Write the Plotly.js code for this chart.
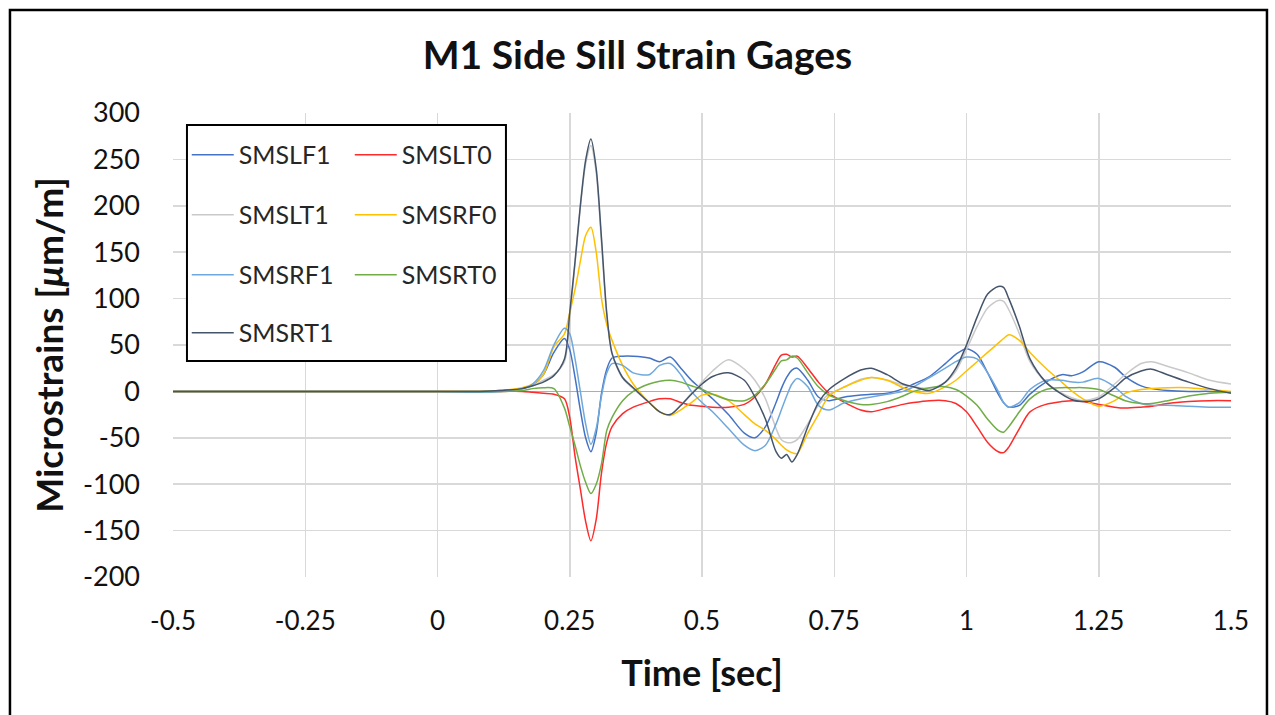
<!DOCTYPE html>
<html>
<head>
<meta charset="utf-8">
<script src="https://cdn.plot.ly/plotly-3.0.1.min.js"></script>
<style>
html,body{margin:0;padding:0;background:#fff;}
#chart{width:1275px;height:715px;}
</style>
</head>
<body>
<div id="chart"></div>
<script>
// Time axis (seconds)
const time = [-0.5, 0, 0.08, 0.12, 0.16, 0.18, 0.2, 0.22, 0.24, 0.25, 0.26, 0.27, 0.28, 0.29, 0.3, 0.31, 0.32, 0.33, 0.35, 0.37, 0.4, 0.42, 0.44, 0.46, 0.48, 0.5, 0.52, 0.55, 0.58, 0.6, 0.62, 0.64, 0.65, 0.66, 0.67, 0.68, 0.7, 0.72, 0.74, 0.77, 0.8, 0.82, 0.85, 0.88, 0.9, 0.93, 0.96, 0.98, 1.0, 1.02, 1.04, 1.06, 1.07, 1.08, 1.1, 1.12, 1.15, 1.18, 1.2, 1.22, 1.25, 1.28, 1.3, 1.33, 1.35, 1.38, 1.42, 1.46, 1.5];

// Series values (microstrains)
const SMSLF1 = [0,0,0,1,3, 7,18,42,57,45, 15,-20,-50,-65,-45, -2,24,36,38,38, 36,32,37,25,12, 2,-8,-25,-45,-50, -38,-12,3,15,23, 25,12,-6,-10,-6, -4,-3,-2,3,8, 16,30,40,46,40, 20,-3,-12,-17,-15, -3,10,18,17,21, 32,26,16,6,3, 1,0,0,-1];
const SMSLT0 = [0,0,0,0,0, -1,-2,-3,-8,-28, -70,-105,-140,-161,-138, -88,-55,-38,-24,-17, -11,-8,-8,-12,-15, -16,-17,-17,-14,-6, 8,30,39,40,37, 38,25,10,-2,-12, -20,-22,-18,-14,-12, -10,-10,-13,-22,-38, -55,-65,-66,-60,-40, -22,-14,-11,-10,-11, -14,-17,-18,-17,-16, -13,-11,-10,-10];
const SMSLT1 = [0,0,0,1,3, 6,12,18,32,80, 138,198,245,265,236, 160,82,40,14,3, -12,-22,-25,-15,-2, 10,22,34,24,12, -8,-40,-52,-55,-55, -52,-35,-15,-3,5, 13,15,12,7,5, 3,10,22,45,70, 90,98,97,88,62, 32,10,-2,-7,-10, -6,8,18,30,32, 27,20,12,8];
const SMSRF0 = [0,0,0,1,4, 8,18,48,62,85, 110,140,168,177,150, 100,72,55,28,8, -12,-22,-26,-20,-12, -4,-3,-10,-25,-35, -42,-52,-58,-63,-66, -67,-45,-25,-5,5, 12,15,12,4,0, -2,5,12,22,32, 42,52,57,61,55, 42,25,10,0,-8, -16,-10,-2,2,3, 4,4,2,0];
const SMSRF1 = [0,0,-1,0,3, 8,22,50,68,62, 35,0,-35,-57,-40, -5,20,30,28,20, 18,28,30,18,0, -12,-22,-40,-58,-64, -58,-35,-20,-5,8, 14,5,-15,-20,-12, -8,-6,-3,0,5, 15,25,32,37,35, 20,0,-12,-17,-12, 2,12,12,10,10, 14,5,-5,-13,-15, -15,-16,-17,-17];
const SMSRT0 = [0,0,0,0,1, 3,4,3,-18,-38, -58,-80,-98,-110,-100, -78,-42,-28,-10,0, 8,11,12,10,6, 2,-3,-9,-10,-4, 8,25,33,34,38, 36,20,5,-4,-10, -14,-14,-11,-5,0, 4,5,2,-5,-15, -30,-42,-44,-38,-22, -8,2,4,4,4, 2,-5,-10,-13,-13, -10,-5,-2,-1];
const SMSRT1 = [0,0,0,1,3, 6,10,17,35,85, 140,200,249,272,240, 165,84,41,15,4, -12,-22,-25,-15,-3, 8,16,20,12,-6, -30,-65,-72,-68,-76, -68,-38,-12,2,14, 23,25,18,8,5, 1,10,25,50,80, 105,113,112,100,70, 35,10,-3,-9,-11, -8,4,14,22,24, 18,10,3,-2];

const seriesNames = ['SMSLF1','SMSLT0','SMSLT1','SMSRF0','SMSRF1','SMSRT0','SMSRT1'];
const seriesValues = [SMSLF1, SMSLT0, SMSLT1, SMSRF0, SMSRF1, SMSRT0, SMSRT1];
const seriesColors = ['#4472C4','#FF2A2A','#C9C9C9','#FFC000','#6FA8DC','#70AD47','#44546A'];
const seriesLegend = ['legend','legend','legend2','legend2','legend3','legend3','legend4'];

const xTickVals = [-0.5, -0.25, 0, 0.25, 0.5, 0.75, 1, 1.25, 1.5];
const xTickText = ['-0.5','-0.25','0','0.25','0.5','0.75','1','1.25','1.5'];
const yTickVals = [-200,-150,-100,-50,0,50,100,150,200,250,300];
const yTickText = ['-200','-150','-100','-50','0','50','100','150','200','250','300'];

const FONT = 'Lato, "Open Sans", sans-serif';

const traces = seriesNames.map((n, i) => ({
  x: time,
  y: seriesValues[i],
  name: n,
  type: 'scatter',
  mode: 'lines',
  line: {color: seriesColors[i], width: 1.5, shape: 'spline', smoothing: 0.8},
  legend: seriesLegend[i]
}));

const legendBase = {
  orientation: 'h',
  bgcolor: 'rgba(0,0,0,0)',
  borderwidth: 0,
  font: {family: FONT, size: 25, color: '#262626'},
  itemwidth: 42,
  entrywidth: 106,
  entrywidthmode: 'pixels',
  xanchor: 'left',
  yanchor: 'middle',
  x: 0.013
};

const layout = {
  width: 1275,
  height: 715,
  paper_bgcolor: '#fff',
  plot_bgcolor: '#fff',
  margin: {l: 173, r: 44, t: 113, b: 138},
  font: {family: FONT, color: '#111'},
  title: {
    text: '<b>M1 Side Sill Strain Gages</b>',
    font: {family: FONT, size: 39, color: '#111'},
    x: 0.5, xref: 'container', xanchor: 'center',
    y: 0.923, yref: 'container', yanchor: 'middle'
  },
  xaxis: {
    range: [-0.5, 1.5],
    tickvals: xTickVals,
    ticktext: xTickText,
    showgrid: true,
    gridcolor: '#D9D9D9',
    gridwidth: 1.5,
    zeroline: false,
    showline: false,
    ticks: '',
    ticklabelstandoff: 26,
    tickfont: {family: FONT, size: 26, color: '#111'},
    title: {text: '<b>Time [sec]</b>', font: {family: FONT, size: 36, color: '#111'}, standoff: 25}
  },
  yaxis: {
    range: [-200, 300],
    tickvals: yTickVals,
    ticktext: yTickText,
    showgrid: true,
    gridcolor: '#D9D9D9',
    gridwidth: 1.5,
    zeroline: true,
    zerolinecolor: '#ADADAD',
    zerolinewidth: 1.5,
    showline: false,
    ticks: '',
    ticklabelstandoff: 32,
    tickfont: {family: FONT, size: 27, color: '#111'},
    title: {text: '<b>Microstrains [<i>μ</i>m/m]</b>', font: {family: FONT, size: 37, color: '#111'}, standoff: 8}
  },
  showlegend: true,
  legend:  Object.assign({}, legendBase, {y: 0.9095}),
  legend2: Object.assign({}, legendBase, {y: 0.7802}),
  legend3: Object.assign({}, legendBase, {y: 0.6509}),
  legend4: Object.assign({}, legendBase, {y: 0.5259}),
  shapes: [
    {type: 'rect', xref: 'paper', yref: 'paper', x0: 0.0132, x1: 0.3147, y0: 0.4655, y1: 0.9741,
     line: {color: '#000', width: 2}, fillcolor: '#fff', layer: 'above'},
    {type: 'rect', xref: 'paper', yref: 'paper', x0: -0.1541, x1: 1.0340, y0: -0.32, y1: 1.2220,
     line: {color: '#000', width: 2.5}, fillcolor: 'rgba(0,0,0,0)', layer: 'above'}
  ]
};

Plotly.newPlot('chart', traces, layout, {displayModeBar: false, staticPlot: true});
</script>
</body>
</html>
